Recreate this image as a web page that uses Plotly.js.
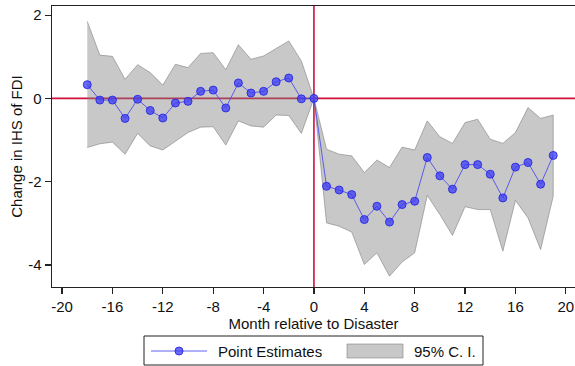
<!DOCTYPE html>
<html>
<head>
<meta charset="utf-8">
<script src="https://cdn.plot.ly/plotly-3.0.1.min.js"></script>
<style>
html,body{margin:0;padding:0;background:#fff;}
#chart{width:575px;height:366px;}
</style>
</head>
<body>
<div id="chart"></div>
<script>
// Months relative to disaster
const months = [-18,-17,-16,-15,-14,-13,-12,-11,-10,-9,-8,-7,-6,-5,-4,-3,-2,-1,0,1,2,3,4,5,6,7,8,9,10,11,12,13,14,15,16,17,18,19];
// Point estimates
const estimates = [0.33,-0.04,-0.04,-0.48,-0.02,-0.29,-0.47,-0.11,-0.07,0.17,0.20,-0.23,0.37,0.13,0.17,0.40,0.49,-0.01,0,
  -2.11,-2.20,-2.31,-2.91,-2.59,-2.97,-2.55,-2.47,-1.42,-1.86,-2.18,-1.59,-1.59,-1.82,-2.39,-1.65,-1.54,-2.06,-1.37];
// Upper bound of 95% CI
const upperCI = [1.85,1.04,1.01,0.46,0.81,0.62,0.32,0.82,0.74,1.08,1.10,0.69,1.29,0.94,1.02,1.20,1.38,0.90,0,
  -1.22,-1.34,-1.38,-1.78,-1.48,-1.66,-1.17,-1.24,-0.54,-0.92,-1.08,-0.58,-0.50,-0.98,-1.08,-0.82,-0.22,-0.48,-0.40];
// Lower bound of 95% CI
const lowerCI = [-1.18,-1.09,-1.05,-1.34,-0.84,-1.14,-1.24,-1.02,-0.82,-0.69,-0.68,-1.12,-0.54,-0.66,-0.69,-0.40,-0.41,-0.84,0,
  -2.99,-3.07,-3.21,-3.99,-3.71,-4.27,-3.93,-3.71,-2.33,-2.79,-3.29,-2.60,-2.67,-2.67,-3.67,-2.45,-2.87,-3.63,-2.35];
const xTicks = [-20,-16,-12,-8,-4,0,4,8,12,16,20];
const yTicks = [-4,-2,0,2];
const legendLabels = ['Point Estimates', '95% C. I.'];

const bandX = months.concat(months.slice().reverse());
const bandY = upperCI.concat(lowerCI.slice().reverse());

const FONT = 'Liberation Sans, Arial, sans-serif';
const FS = 15;
const RED = '#d0103c';
const LINEC = 'rgba(70,70,240,0.85)';
const MARKC = 'rgba(60,60,245,0.75)';
const MARKL = 'rgba(40,40,225,0.9)';
const BANDF = 'rgba(128,128,128,0.43)';
const BANDL = 'rgba(120,120,120,0.55)';

const traces = [
  {
    x: bandX, y: bandY, type: 'scatter', mode: 'lines',
    name: legendLabels[1], fill: 'toself',
    fillcolor: BANDF, line: {color: BANDL, width: 1}
  },
  {
    x: months, y: estimates, type: 'scatter', mode: 'lines+markers',
    name: legendLabels[0],
    line: {color: LINEC, width: 1},
    marker: {size: 8, color: MARKC, line: {color: MARKL, width: 1}}
  }
];

// plot area in pixels: x 52..575, y 6..287
const L = 52, R = 575, T = 6, B = 287;
const px = v => (v - L) / (R - L);
const py = v => (B - v) / (B - T);

const legendShapes = [
  {type: 'rect', xref: 'paper', yref: 'paper', x0: px(144), x1: px(483), y0: py(365), y1: py(336),
   line: {color: '#222', width: 1}, fillcolor: '#fff'},
  {type: 'line', xref: 'paper', yref: 'paper', x0: px(151), x1: px(207), y0: py(351), y1: py(351),
   line: {color: LINEC, width: 1}},
  {type: 'circle', xref: 'paper', yref: 'paper', x0: px(175), x1: px(183), y0: py(355), y1: py(347),
   fillcolor: MARKC, line: {color: MARKL, width: 1}},
  {type: 'rect', xref: 'paper', yref: 'paper', x0: px(347), x1: px(403), y0: py(358), y1: py(344),
   fillcolor: BANDF, line: {color: BANDL, width: 1}}
];
const legendAnns = [
  {xref: 'paper', yref: 'paper', x: px(216), y: py(351), xanchor: 'left', yanchor: 'middle', showarrow: false,
   text: legendLabels[0], font: {family: FONT, size: FS, color: '#111'}},
  {xref: 'paper', yref: 'paper', x: px(412), y: py(351), xanchor: 'left', yanchor: 'middle', showarrow: false,
   text: legendLabels[1], font: {family: FONT, size: FS, color: '#111'}}
];

const layout = {
  width: 575, height: 366,
  margin: {l: L, r: 0, t: T, b: 366 - B},
  paper_bgcolor: '#fff', plot_bgcolor: '#fff',
  font: {family: FONT, size: FS, color: '#111'},
  showlegend: false,
  xaxis: {
    range: [-20.8, 20.73], tickvals: xTicks, ticktext: xTicks.map(String),
    showgrid: false, zeroline: false,
    showline: true, linecolor: '#222', linewidth: 1.3, mirror: true,
    ticks: 'outside', ticklen: 6, tickwidth: 1.2, tickcolor: '#222',
    tickfont: {family: FONT, size: FS, color: '#111'},
    title: {text: 'Month relative to Disaster', font: {family: FONT, size: FS, color: '#111'}, standoff: 3}
  },
  yaxis: {
    range: [-4.53, 2.22], tickvals: yTicks, ticktext: yTicks.map(String),
    showgrid: false, zeroline: false,
    showline: true, linecolor: '#222', linewidth: 1.3,
    ticks: 'outside', ticklen: 6, tickwidth: 1.2, tickcolor: '#222',
    tickfont: {family: FONT, size: FS, color: '#111'},
    title: {text: 'Change in IHS of FDI', font: {family: FONT, size: FS, color: '#111'}, standoff: 2}
  },
  shapes: [
    {type: 'line', xref: 'paper', yref: 'y', x0: 0, x1: 1, y0: 0, y1: 0, layer: 'below', line: {color: RED, width: 1.6}},
    {type: 'line', xref: 'x', yref: 'paper', x0: 0, x1: 0, y0: 0, y1: 1, layer: 'below', line: {color: RED, width: 1.6}}
  ].concat(legendShapes),
  annotations: legendAnns
};

Plotly.newPlot('chart', traces, layout, {displayModeBar: false, staticPlot: true});
</script>
</body>
</html>
